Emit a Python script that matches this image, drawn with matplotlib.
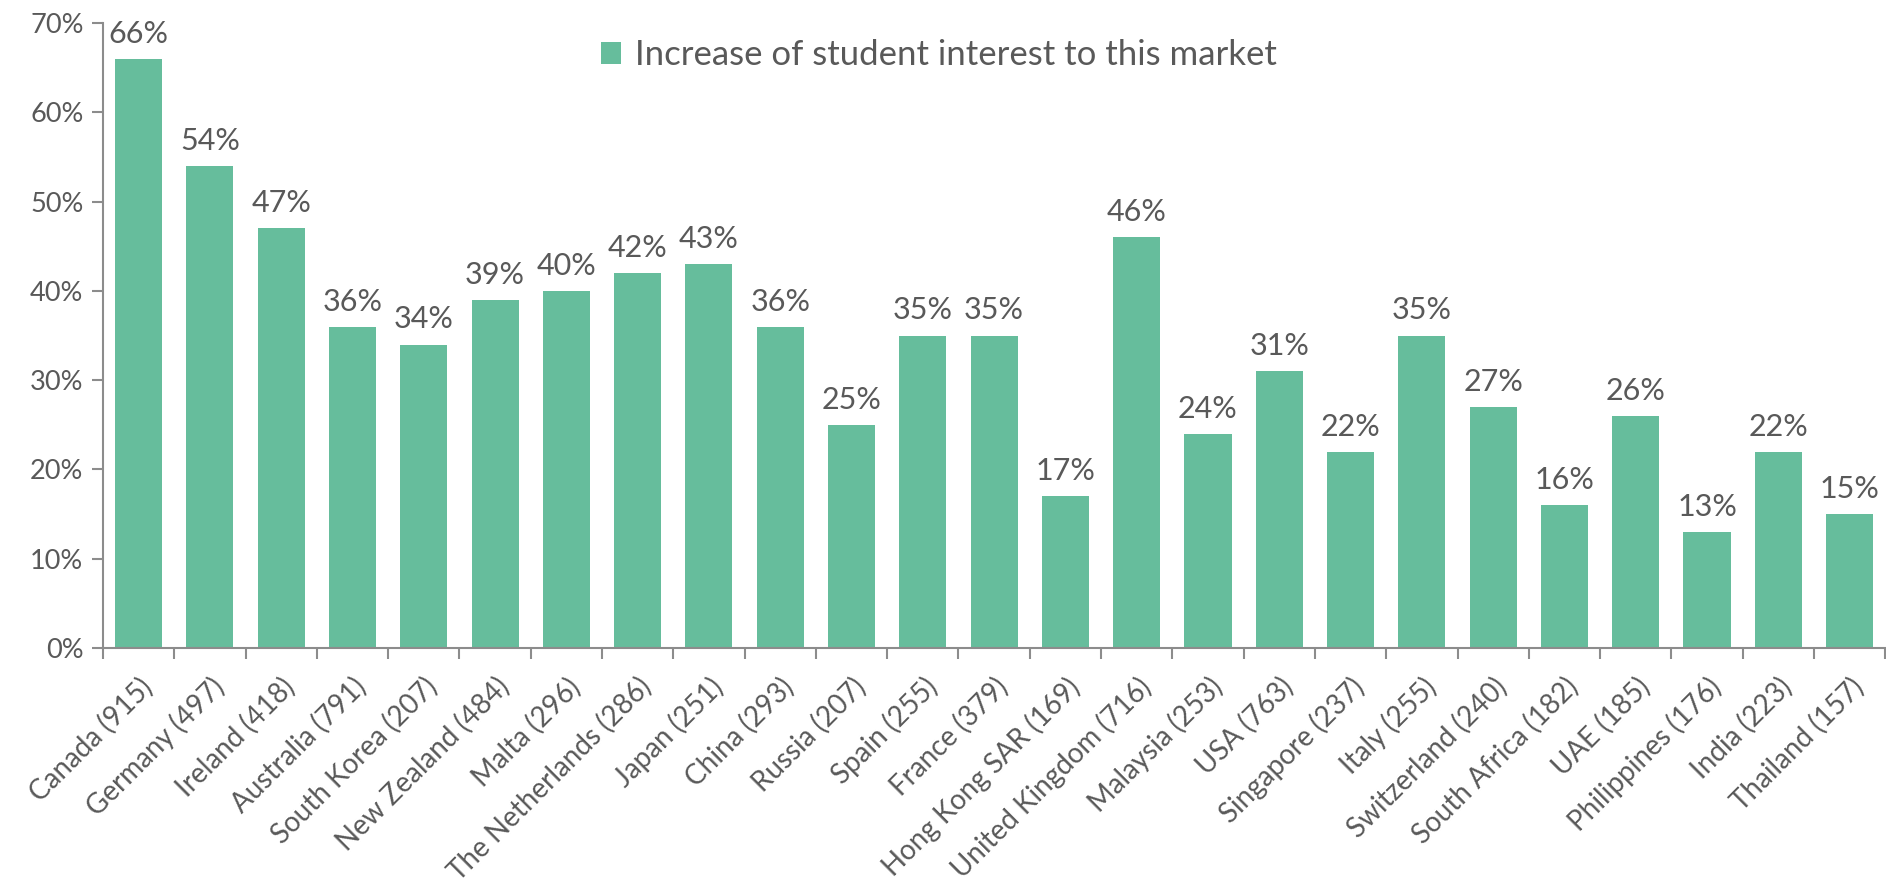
import matplotlib.pyplot as plt
import numpy as np
from matplotlib.ticker import FixedLocator, PercentFormatter

plt.rcParams['font.family'] = ['Lato', 'DejaVu Sans']

countries = ["Canada (915)", "Germany (497)", "Ireland (418)", "Australia (791)",
             "South Korea (207)", "New Zealand (484)", "Malta (296)",
             "The Netherlands (286)", "Japan (251)", "China (293)", "Russia (207)",
             "Spain (255)", "France (379)", "Hong Kong SAR (169)",
             "United Kingdom (716)", "Malaysia (253)", "USA (763)",
             "Singapore (237)", "Italy (255)", "Switzerland (240)",
             "South Africa (182)", "UAE (185)", "Philippines (176)",
             "India (223)", "Thailand (157)"]
interest = [66, 54, 47, 36, 34, 39, 40, 42, 43, 36, 25, 35, 35, 17, 46,
            24, 31, 22, 35, 27, 16, 26, 13, 22, 15]

bar_color = "#66bd9c"
text_color = "#595959"
axis_color = "#8c8c8c"

fig = plt.figure(figsize=(18.86, 8.91), dpi=100)
ax = fig.add_axes([0.0546, 0.2727, 0.945, 0.7013])

x = np.arange(len(countries))
bars = ax.bar(x, interest, width=0.66, color=bar_color,
              label="Increase of student interest to this market")

# value labels above each bar
for xi, v in zip(x, interest):
    ax.annotate(f"{v}%", (xi, v), xytext=(0, 8), textcoords="offset points",
                ha="center", va="bottom", fontsize=22, color=text_color)

ax.set_xlim(-0.5, len(countries) - 0.5)
ax.set_ylim(0, 70)
ax.set_yticks(np.arange(0, 71, 10))
ax.yaxis.set_major_formatter(PercentFormatter(decimals=0))

ax.set_xticks(x)
ax.set_xticklabels(countries, rotation=45, ha="right", rotation_mode="anchor")
# tick marks sit between the bars, labels at bar centres
ax.xaxis.set_minor_locator(FixedLocator(np.arange(-0.5, len(countries), 1)))
ax.tick_params(axis="x", which="major", length=0, pad=18, labelsize=20,
               labelcolor=text_color)
ax.tick_params(axis="x", which="minor", length=8, width=1.5, color=axis_color)
ax.tick_params(axis="y", length=8, width=1.5, color=axis_color, labelsize=19.5,
               labelcolor=text_color, pad=6)

for side in ["top", "right"]:
    ax.spines[side].set_visible(False)
for side in ["left", "bottom"]:
    ax.spines[side].set_color(axis_color)
    ax.spines[side].set_linewidth(1.5)

leg = ax.legend(loc="upper center", bbox_to_anchor=(0.469, 1.025), frameon=False,
                fontsize=25, handlelength=0.6, handleheight=0.6, handletextpad=0.4)
for t in leg.get_texts():
    t.set_color(text_color)

fig.savefig("out.png", dpi=100)
